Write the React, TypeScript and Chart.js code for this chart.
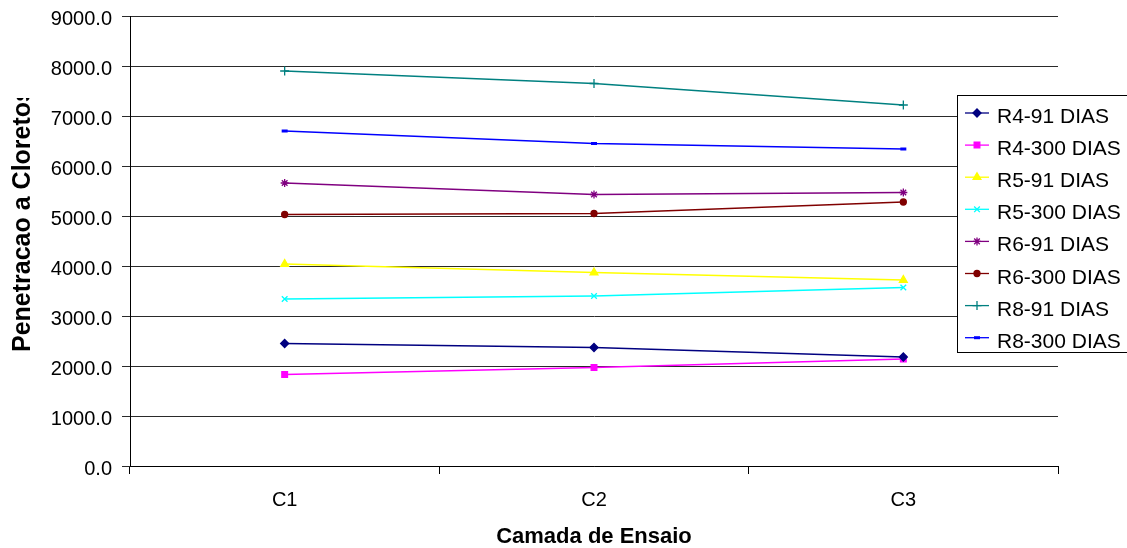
import React, { useEffect, useRef } from 'react';
import { Chart, registerables } from 'chart.js';
import { drawPoint } from 'chart.js/helpers';

Chart.register(...registerables);

// Test layers and chloride penetration per mix / curing age
const categories = ['C1', 'C2', 'C3'];
const r4Dias91 = [2450, 2370, 2180];
const r4Dias300 = [1830, 1970, 2140];
const r5Dias91 = [4040, 3870, 3720];
const r5Dias300 = [3340, 3400, 3570];
const r6Dias91 = [5660, 5430, 5470];
const r6Dias300 = [5030, 5050, 5280];
const r8Dias91 = [7900, 7650, 7220];
const r8Dias300 = [6700, 6450, 6340];

const yMin = 0;
const yMax = 9000;
const yStep = 1000;

const xTitle = 'Camada de Ensaio';
const yTitle = 'Penetracao a Cloretos';

const FONT = '"Liberation Sans", Arial, Helvetica, sans-serif';

const series = [
  { label: 'R4-91 DIAS', data: r4Dias91, color: '#000080', style: 'rectRot', radius: 4 },
  { label: 'R4-300 DIAS', data: r4Dias300, color: '#FF00FF', style: 'rect', radius: 4 },
  { label: 'R5-91 DIAS', data: r5Dias91, color: '#FFFF00', style: 'triangle', radius: 4.5 },
  { label: 'R5-300 DIAS', data: r5Dias300, color: '#00FFFF', style: 'crossRot', radius: 4 },
  { label: 'R6-91 DIAS', data: r6Dias91, color: '#800080', style: 'star', radius: 4 },
  { label: 'R6-300 DIAS', data: r6Dias300, color: '#800000', style: 'circle', radius: 3 },
  { label: 'R8-91 DIAS', data: r8Dias91, color: '#008080', style: 'cross', radius: 4.5 },
  { label: 'R8-300 DIAS', data: r8Dias300, color: '#0000FF', style: 'line', radius: 3 },
];

// Boxed legend laid over the right end of the plot
const boxLegend = {
  id: 'boxLegend',
  afterDraw(chart: any) {
    const ctx = chart.ctx as CanvasRenderingContext2D;
    ctx.save();
    ctx.fillStyle = '#ffffff';
    ctx.fillRect(957.5, 95.5, 190, 257);
    ctx.strokeStyle = '#000000';
    ctx.lineWidth = 1;
    ctx.strokeRect(957.5, 95.5, 190, 257);
    ctx.font = `21px ${FONT}`;
    ctx.textAlign = 'left';
    ctx.textBaseline = 'alphabetic';
    chart.data.datasets.forEach((ds: any, i: number) => {
      const y = 113 + i * 32.1;
      ctx.strokeStyle = ds.borderColor;
      ctx.fillStyle = ds.backgroundColor;
      ctx.lineWidth = 1.3;
      ctx.beginPath();
      ctx.moveTo(965, y);
      ctx.lineTo(989, y);
      ctx.stroke();
      ctx.lineWidth = ds.pointBorderWidth;
      drawPoint(ctx, { pointStyle: ds.pointStyle, rotation: 0, radius: ds.pointRadius, borderWidth: ds.pointBorderWidth }, 977, y);
      ctx.fillStyle = '#000000';
      ctx.fillText(ds.label, 997, y + 10);
    });
    ctx.restore();
  },
};

// Axis titles
const axisTitles = {
  id: 'axisTitles',
  afterDraw(chart: any) {
    const ctx = chart.ctx as CanvasRenderingContext2D;
    const area = chart.chartArea;
    ctx.save();
    ctx.fillStyle = '#000000';
    ctx.font = `bold 22px ${FONT}`;
    ctx.textAlign = 'center';
    ctx.textBaseline = 'alphabetic';
    ctx.fillText(xTitle, (area.left + area.right) / 2, 543);

    ctx.beginPath();
    ctx.rect(0, 98, 60, 450);
    ctx.clip();
    ctx.translate(22, 352);
    ctx.rotate(-Math.PI / 2);
    ctx.font = `bold 25px ${FONT}`;
    ctx.textAlign = 'left';
    ctx.textBaseline = 'middle';
    ctx.fillText(yTitle, 0, 1);
    ctx.restore();
  },
};

export default function App() {
  const canvasRef = useRef<HTMLCanvasElement | null>(null);

  useEffect(() => {
    if (!canvasRef.current) return;
    const chart = new Chart(canvasRef.current, {
      type: 'line',
      data: {
        labels: categories,
        datasets: series.map((s) => ({
          label: s.label,
          data: s.data,
          borderColor: s.color,
          backgroundColor: s.color,
          borderWidth: 1.3,
          pointStyle: s.style as any,
          pointRadius: s.radius,
          pointHoverRadius: s.radius,
          pointBorderWidth: s.style === 'line' ? 3 : 1.3,
          pointBackgroundColor: s.color,
          pointBorderColor: s.color,
          tension: 0,
          fill: false,
        })),
      },
      options: {
        animation: false,
        responsive: true,
        maintainAspectRatio: false,
        layout: { padding: { top: 16, right: 69, left: 0, bottom: 0 } },
        plugins: {
          legend: { display: false },
          tooltip: { enabled: false },
          title: { display: false },
        },
        scales: {
          x: {
            type: 'category',
            offset: true,
            afterFit: (scale: any) => {
              scale.height = 82;
            },
            grid: {
              offset: true,
              drawOnChartArea: false,
              drawTicks: true,
              tickLength: 8,
              color: '#000000',
              lineWidth: 1,
            },
            border: { color: '#000000', width: 1 },
            ticks: {
              color: '#000000',
              font: { family: FONT, size: 20 },
              padding: 14,
              maxRotation: 0,
            },
          },
          y: {
            min: yMin,
            max: yMax,
            afterFit: (scale: any) => {
              scale.width = 130;
              scale.paddingTop = 0;
              scale.paddingBottom = 0;
            },
            grid: {
              color: '#2a2a2a',
              lineWidth: 1,
              drawTicks: true,
              tickLength: 8,
            },
            border: { color: '#000000', width: 1 },
            ticks: {
              stepSize: yStep,
              color: '#000000',
              font: { family: FONT, size: 20 },
              padding: 10,
              labelOffset: 3,
              callback: (v: any) => Number(v).toFixed(1),
            },
          },
        },
      },
      plugins: [axisTitles, boxLegend],
    });
    return () => chart.destroy();
  }, []);

  return (
    <div style={{ position: 'fixed', left: 0, top: 0, width: 1127, height: 548, background: '#ffffff' }}>
      <canvas ref={canvasRef} />
    </div>
  );
}
